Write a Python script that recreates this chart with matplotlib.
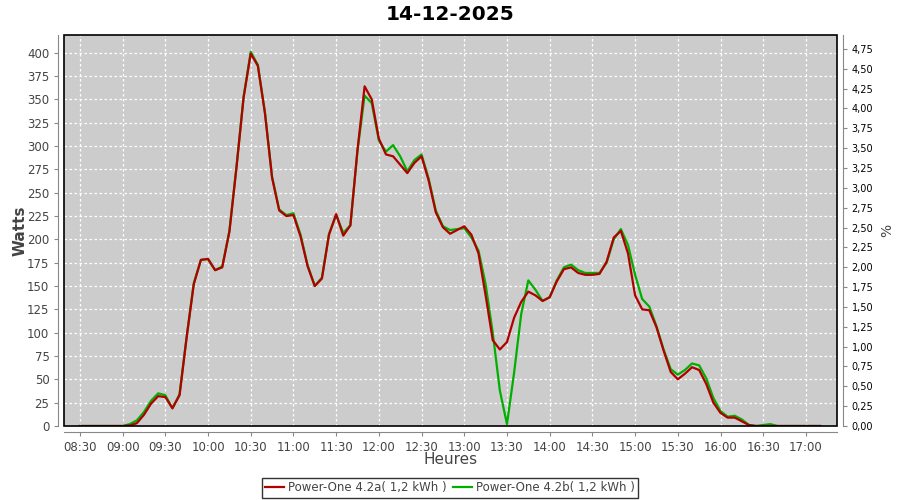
import pandas as pd
import matplotlib
matplotlib.use('Agg')
import matplotlib.pyplot as plt
import matplotlib.dates as mdates
from matplotlib.patches import Rectangle
from matplotlib.ticker import FuncFormatter, MultipleLocator

# 5 min readings, 08:30 -> 17:10
watts_a = [0, 0, 0, 0, 0, 0, 0, 0.5, 3, 12, 24, 32, 31, 19, 33, 95, 152, 178, 179, 167,
           170, 208, 277, 352, 399, 386, 335, 266, 231, 225, 226, 203, 171, 150, 158, 205,
           227, 204, 215, 296, 364, 350, 308, 291, 289, 280, 271, 282, 289, 263, 229, 213,
           206, 210, 214, 205, 185, 140, 92, 82, 90, 116, 133, 144, 140, 134, 138, 155,
           168, 170, 164, 162, 162, 163, 176, 202, 209, 185, 140, 125, 124, 106, 81, 58,
           50, 56, 63, 60, 45, 25, 14, 9, 9, 5, 1, 0, 0, 0, 0, 0, 0, 0, 0, 0, 0]
watts_b = [0, 0, 0, 0, 0, 0, 0, 2, 6, 15, 27, 35, 33, 19, 34, 96, 153, 178, 179, 167,
           171, 209, 278, 353, 401, 387, 336, 267, 232, 226, 228, 205, 172, 150, 159, 206,
           226, 207, 215, 295, 354, 346, 306, 294, 301, 289, 273, 285, 291, 265, 231, 214,
           210, 211, 212, 202, 188, 152, 100, 38, 2, 57, 120, 156, 146, 134, 138, 156,
           170, 173, 167, 164, 164, 164, 175, 200, 211, 194, 162, 136, 128, 107, 82, 61,
           55, 60, 67, 65, 51, 30, 16, 10, 11, 7, 1, 0, 1, 2, 0, 0, 0, 0, 0, 0, 0]

label_a = 'Power-One 4.2a( 1,2 kWh )'
label_b = 'Power-One 4.2b( 1,2 kWh )'
title = '14-12-2025'

times = pd.date_range('2025-12-14 08:30', periods=len(watts_a), freq='5min')

GREY = '#444444'
plt.rcParams['font.family'] = ['DejaVu Sans']

fig = plt.figure(figsize=(9, 5), dpi=100)
ax = fig.add_axes([64 / 900, 1 - 426 / 500, (837 - 64) / 900, (426 - 35) / 500])
ax.set_facecolor('#cccccc')

lb, = ax.plot(times, watts_b, color='#00b000', lw=1.6, label=label_b, zorder=3)
la, = ax.plot(times, watts_a, color='#b00000', lw=1.6, label=label_a, zorder=4)

ax.set_xlim(pd.Timestamp('2025-12-14 08:18:50'), pd.Timestamp('2025-12-14 17:21:50'))
ax.set_ylim(0, 419)
ax.yaxis.set_major_locator(MultipleLocator(25))
ax.xaxis.set_major_locator(mdates.MinuteLocator(byminute=[0, 30]))
ax.xaxis.set_major_formatter(mdates.DateFormatter('%H:%M'))

ax.grid(True, color='white', linestyle=(0, (2, 2)), lw=0.9)
ax.set_axisbelow(True)

for s in ['top', 'right']:
    ax.spines[s].set_visible(False)
for s in ['left', 'bottom']:
    ax.spines[s].set_position(('outward', 4))
    ax.spines[s].set_color('#888888')
ax.tick_params(colors='#888888', labelcolor=GREY, labelsize=8.5, length=3, width=0.8)

ax.add_patch(Rectangle((0, 0), 1, 1, transform=ax.transAxes, fill=False,
                       edgecolor='black', lw=1.2, clip_on=False, zorder=6))

ax2 = ax.twinx()
ax2.set_ylim(0, 4.925)
ax2.yaxis.set_major_locator(MultipleLocator(0.25))
ax2.yaxis.set_major_formatter(FuncFormatter(lambda v, p: f'{v:.2f}'.replace('.', ',')))
for s in ['top', 'left', 'bottom']:
    ax2.spines[s].set_visible(False)
ax2.spines['right'].set_position(('outward', 4))
ax2.spines['right'].set_color('#888888')
ax2.tick_params(colors='#888888', labelcolor='black', labelsize=7, length=3, width=0.8)
ax2.set_ylabel('%', color=GREY, fontsize=10)
ax2.yaxis.set_label_coords((880 - 64) / 773, 0.5)

ax.set_ylabel('Watts', color=GREY, fontsize=11, fontweight='bold')
ax.yaxis.set_label_coords((28 - 64) / 773, 0.5)
ax.set_xlabel('Heures', color=GREY, fontsize=11)
ax.xaxis.set_label_coords(0.5, (426 - 452) / 391)

fig.text(0.5, 1 - 14 / 500, title, ha='center', va='center',
         fontsize=14.5, fontweight='bold')

leg = fig.legend([la, lb], [label_a, label_b], loc='center', ncol=2,
                 bbox_to_anchor=(0.5, 1 - 488 / 500), fontsize=8.5, frameon=True,
                 fancybox=False, edgecolor='black', handlelength=1.6,
                 handletextpad=0.3, columnspacing=0.6, borderpad=0.3)
leg.get_frame().set_linewidth(1.0)
for t in leg.get_texts():
    t.set_color(GREY)

fig.savefig('out.png', dpi=100)
